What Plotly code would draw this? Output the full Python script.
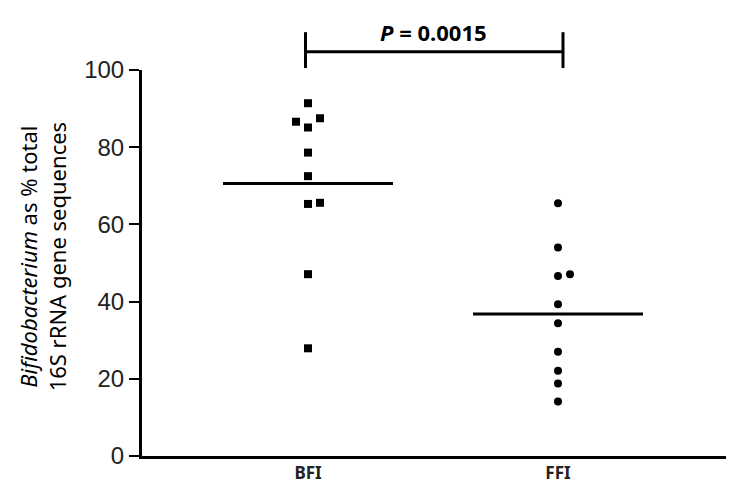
import plotly.graph_objects as go

# values
groups = ["BFI", "FFI"]
bfi_values = [91.4, 86.6, 87.5, 85.1, 78.6, 72.5, 65.3, 65.6, 47.1, 27.9]
ffi_values = [65.5, 54.0, 46.6, 47.1, 39.3, 34.4, 27.0, 22.1, 18.8, 14.1]
bfi_median = 70.6
ffi_median = 36.8
p_label = "<i>P</i> = 0.0015"
y_ticks = [0, 20, 40, 60, 80, 100]

# small horizontal scatter so overlapping points stay visible
bfi_jitter = [0, -0.048, 0.048, 0, 0, 0, 0, 0.048, 0, 0]
ffi_jitter = [0, 0, 0, 0.048, 0, 0, 0, 0, 0, 0]

bfi_x = [1 + j for j in bfi_jitter]
ffi_x = [2 + j for j in ffi_jitter]

fig = go.Figure()

fig.add_trace(go.Scatter(
    x=bfi_x, y=bfi_values, mode="markers",
    marker=dict(symbol="square", size=8, color="black"),
    showlegend=False, cliponaxis=False,
))
fig.add_trace(go.Scatter(
    x=ffi_x, y=ffi_values, mode="markers",
    marker=dict(symbol="circle", size=8, color="black"),
    showlegend=False, cliponaxis=False,
))

# median lines
half = 0.34
for cx, med in [(1, bfi_median), (2, ffi_median)]:
    fig.add_trace(go.Scatter(
        x=[cx - half, cx + half], y=[med, med], mode="lines",
        line=dict(color="black", width=3), showlegend=False,
    ))

# significance bracket
line_style = dict(color="black", width=3)
fig.add_shape(type="line", xref="x", yref="paper", x0=0.99, x1=2.02,
              y0=1.047, y1=1.047, line=line_style)
fig.add_shape(type="line", xref="x", yref="paper", x0=0.99, x1=0.99,
              y0=1.005, y1=1.098, line=line_style)
fig.add_shape(type="line", xref="x", yref="paper", x0=2.02, x1=2.02,
              y0=1.005, y1=1.098, line=line_style)

fig.add_annotation(
    x=1.5, xref="x", y=1.098, yref="paper", text="<b>" + p_label + "</b>",
    showarrow=False, font=dict(family="Noto Sans", size=22, color="black"),
    xanchor="center", yanchor="middle",
)

fig.add_annotation(
    x=-0.171, xref="paper", y=0.515, yref="paper", textangle=-90,
    text="<i>Bifidobacterium</i> as % total<br>16S rRNA gene sequences",
    showarrow=False, font=dict(family="Noto Sans", size=22, color="black"),
    xanchor="center", yanchor="middle",
)

fig.update_xaxes(
    range=[0.336, 2.672], tickvals=[1, 2], ticktext=["<b>" + g + "</b>" for g in groups],
    showline=True, linecolor="black", linewidth=3, ticks="",
    showgrid=False, zeroline=False, automargin=False,
    tickfont=dict(family="Noto Sans", size=17, color="#222"),
)
fig.update_yaxes(
    range=[0, 100], tickvals=y_ticks, showline=True, linecolor="black", linewidth=3,
    ticks="outside", ticklen=10, tickwidth=2, tickcolor="black",
    showgrid=False, zeroline=False, automargin=False,
    tickfont=dict(family="Liberation Sans", size=24, color="#222"),
)

fig.update_layout(
    width=740, height=486,
    margin=dict(l=142, r=14, t=70, b=30),
    plot_bgcolor="white", paper_bgcolor="white",
)

# drop the browser's default body margin so the figure sits at 0,0
fig.write_html("out.html", config={"displayModeBar": False},
               post_script="document.body.style.margin='0px';")
